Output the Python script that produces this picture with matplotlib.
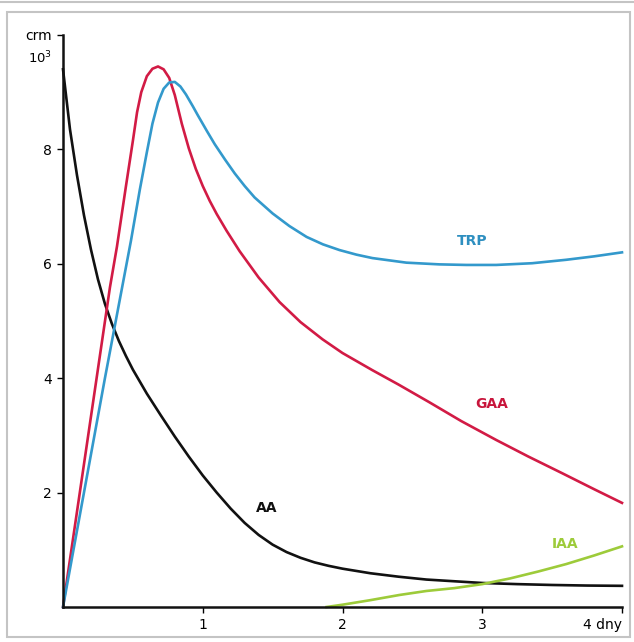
import matplotlib.pyplot as plt
from matplotlib.patches import Rectangle
from matplotlib.lines import Line2D

# values (x in days, y in units of 10^3)
aa_x = [0, 0.05, 0.1, 0.15, 0.2, 0.25, 0.3, 0.35, 0.4, 0.45, 0.5, 0.6, 0.7, 0.8,
        0.9, 1.0, 1.1, 1.2, 1.3, 1.4, 1.5, 1.6, 1.7, 1.8, 1.9, 2.0, 2.2, 2.4,
        2.6, 2.8, 3.0, 3.25, 3.5, 3.75, 4.0]
aa_y = [9.4, 8.35, 7.55, 6.85, 6.25, 5.73, 5.3, 4.95, 4.65, 4.39, 4.15, 3.73,
        3.35, 2.98, 2.63, 2.3, 2.0, 1.72, 1.47, 1.26, 1.09, 0.96, 0.86, 0.78,
        0.72, 0.67, 0.59, 0.53, 0.48, 0.45, 0.42, 0.40, 0.385, 0.375, 0.37]

gaa_x = [0, 0.336, 0.386, 0.45, 0.5, 0.53, 0.56, 0.6, 0.64, 0.68, 0.72, 0.76,
         0.8, 0.85, 0.9, 0.95, 1.0, 1.05, 1.1, 1.17, 1.264, 1.4, 1.55, 1.7,
         1.857, 2.0, 2.214, 2.4, 2.621, 2.85, 3.1, 3.33, 3.571, 3.8, 4.0]
gaa_y = [0, 5.59, 6.3, 7.35, 8.15, 8.65, 9.0, 9.28, 9.41, 9.45, 9.40, 9.25,
         8.95, 8.45, 8.02, 7.66, 7.36, 7.1, 6.87, 6.58, 6.22, 5.76, 5.33, 4.98,
         4.68, 4.44, 4.14, 3.89, 3.58, 3.25, 2.92, 2.63, 2.34, 2.06, 1.82]

trp_x = [0, 0.3, 0.486, 0.55, 0.6, 0.64, 0.68, 0.72, 0.76, 0.8, 0.84, 0.88,
         0.93, 0.964, 1.03, 1.086, 1.16, 1.229, 1.3, 1.371, 1.5, 1.62, 1.743,
         1.86, 1.979, 2.1, 2.214, 2.457, 2.693, 2.886, 3.1, 3.357, 3.6, 3.8, 4.0]
trp_y = [0, 4.0, 6.4, 7.3, 7.95, 8.45, 8.82, 9.06, 9.17, 9.18, 9.1, 8.96,
         8.75, 8.6, 8.32, 8.09, 7.82, 7.58, 7.36, 7.16, 6.88, 6.66, 6.47,
         6.34, 6.24, 6.16, 6.10, 6.02, 5.99, 5.98, 5.98, 6.01, 6.07, 6.13, 6.2]

iaa_x = [1.886, 2.0, 2.2, 2.407, 2.6, 2.8, 3.0, 3.2, 3.4, 3.6, 3.8, 4.0]
iaa_y = [0.0, 0.04, 0.12, 0.21, 0.28, 0.33, 0.40, 0.5, 0.62, 0.75, 0.9, 1.06]

x_ticks = [1, 2, 3, 4]
x_labels = ['1', '2', '3', '4 dny']
y_ticks = [2, 4, 6, 8, 10]
y_labels = ['2', '4', '6', '8', 'crm']

c_aa = '#111111'
c_gaa = '#d21b45'
c_trp = '#3399cc'
c_iaa = '#9dcb3a'

fig = plt.figure(figsize=(6.34, 6.42), dpi=100)
W, H = 634, 642

# light grey frame around the whole chart
fig.patches.append(Rectangle((7 / W, 1 - 637 / H), 623 / W, 625 / H,
                             transform=fig.transFigure, fill=False,
                             edgecolor='#c4c4c4', linewidth=1.5))
fig.lines.append(Line2D([0, 1], [1 - 1.5 / H, 1 - 1.5 / H], transform=fig.transFigure,
                        color='#c4c4c4', linewidth=1.5))

ax = fig.add_axes([63 / W, 1 - 607 / H, 559 / W, 572 / H])
ax.set_xlim(0, 4)
ax.set_ylim(0, 10)

lw = 1.9
ax.plot(aa_x, aa_y, color=c_aa, lw=lw, solid_joinstyle='round', clip_on=False)
ax.plot(gaa_x, gaa_y, color=c_gaa, lw=lw, solid_joinstyle='round', clip_on=False)
ax.plot(trp_x, trp_y, color=c_trp, lw=lw, solid_joinstyle='round', clip_on=False)
ax.plot(iaa_x, iaa_y, color=c_iaa, lw=lw, solid_joinstyle='round', clip_on=False)

lab = dict(fontsize=10, fontweight='bold', ha='center', va='center')
ax.text(2.93, 6.4, 'TRP', color='#2e8fc0', **lab)
ax.text(3.07, 3.55, 'GAA', color='#c8163c', **lab)
ax.text(1.46, 1.73, 'AA', color='#111111', **lab)
ax.text(3.59, 1.11, 'IAA', color=c_iaa, **lab)

for s in ['top', 'right']:
    ax.spines[s].set_visible(False)
for s in ['left', 'bottom']:
    ax.spines[s].set_linewidth(1.8)
    ax.spines[s].set_color('#111111')

ax.set_xticks(x_ticks)
ax.set_xticklabels(x_labels, fontsize=10)
ax.set_yticks(y_ticks)
ax.set_yticklabels(y_labels, fontsize=10)
ax.tick_params(length=4, width=1, pad=4)
ax.get_xticklabels()[-1].set_horizontalalignment('right')
ax.get_xticklabels()[-1].set_x(4.02)
ax.text(-0.075, 9.6, '10$^3$', fontsize=9.5, ha='right', va='center')

fig.savefig('out.png', dpi=100)
